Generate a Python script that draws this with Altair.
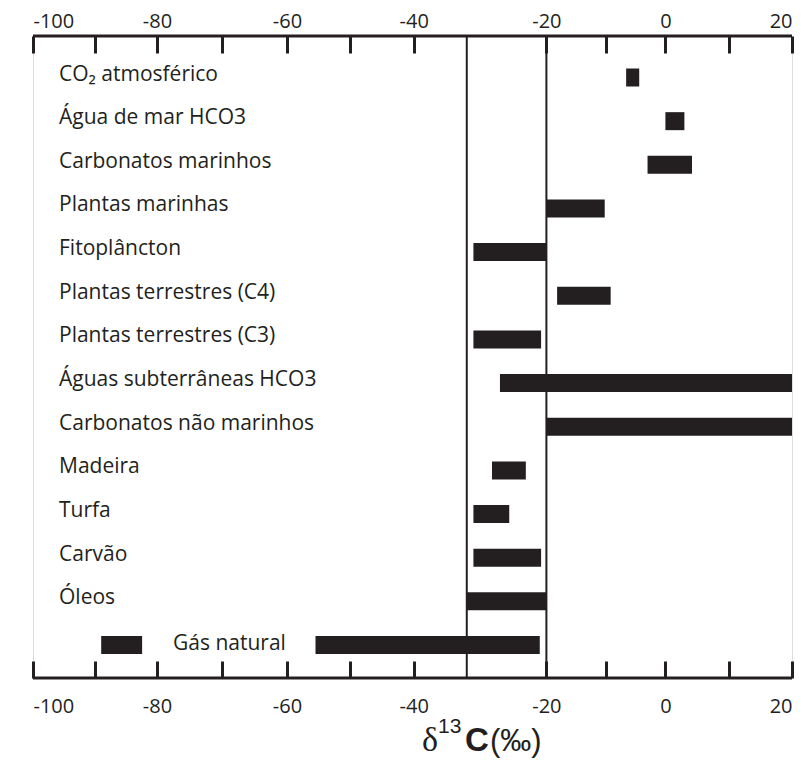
import altair as alt
import pandas as pd

# ---- data ----
categories = [
    "CO₂ atmosférico", "Água de mar HCO3", "Carbonatos marinhos", "Plantas marinhas",
    "Fitoplâncton", "Plantas terrestres (C4)", "Plantas terrestres (C3)",
    "Águas subterrâneas HCO3", "Carbonatos não marinhos", "Madeira", "Turfa",
    "Carvão", "Óleos", "Gás natural",
]
range_min = [-6.6, 0.0, -3.0, -20.0, -31.0, -18.2, -31.0, -27.0, -20.0, -28.2, -31.0, -31.0, -32.0, -55.5]
range_max = [-4.4, 3.0, 4.2, -10.2, -20.0, -9.2, -20.8, 20.0, 20.0, -23.1, -25.6, -20.8, -20.0, -21.0]

# second (separate) range drawn for natural gas
extra_category = ["Gás natural"]
extra_min = [-89.0]
extra_max = [-82.4]

ref_lines = [-32, -20]
tick_values = [-100, -90, -80, -70, -60, -50, -40, -20, -10, 0, 10, 20]
scale_breaks = [-100, -80, -60, -40, -20, 0, 20]

# ---- layout / style ----
W, H = 759, 642
INK = "#231f20"
FONT = "Open Sans"
break_px = [0, 124, 254, 380.7, 513.4, 632.4, 759]

bars = pd.DataFrame({
    "category": categories + extra_category,
    "lo": range_min + extra_min,
    "hi": range_max + extra_max,
})
labels_df = pd.DataFrame({"category": categories})
lines_df = pd.DataFrame({"v": ref_lines})

xscale = alt.Scale(domain=scale_breaks, range=break_px, nice=False, zero=False)
yscale = alt.Scale(type="point", domain=categories, range=[41.5, 609], padding=0)

label_expr = "datum.value % 20 == 0 ? '' + datum.value : ''"

bar_layer = alt.Chart(bars).mark_bar(size=18, color=INK).encode(
    x=alt.X("lo:Q", scale=xscale,
            axis=alt.Axis(orient="top", values=tick_values, labelExpr=label_expr,
                          domain=False, grid=False, tickSize=17, tickWidth=3,
                          tickColor=INK, offset=-17, labelFont=FONT, labelFontSize=20,
                          labelColor=INK, labelPadding=5, title=None)),
    x2="hi:Q",
    y=alt.Y("category:N", scale=yscale, axis=None),
)

bottom_axis_layer = alt.Chart(lines_df).mark_rule(strokeWidth=2, color=INK).encode(
    x=alt.X("v:Q", scale=xscale,
            axis=alt.Axis(orient="bottom", values=tick_values, labelExpr=label_expr,
                          domain=False, grid=False, tickSize=17, tickWidth=3,
                          tickColor=INK, offset=-17, labelFont=FONT, labelFontSize=20,
                          labelColor=INK, labelPadding=18, title=None)),
)

frame_df = pd.DataFrame({"edge": ["top", "bottom"]})
top_line = alt.Chart(frame_df.iloc[[0]]).mark_rule(strokeWidth=3, color=INK).encode(
    x=alt.value(0), x2=alt.value(W), y=alt.value(0))
bottom_line = alt.Chart(frame_df.iloc[[1]]).mark_rule(strokeWidth=3, color=INK).encode(
    x=alt.value(0), x2=alt.value(W), y=alt.value(H))

text_layer = alt.Chart(labels_df).transform_filter(
    alt.datum.category != "Gás natural"
).mark_text(align="left", baseline="middle", dy=-3, font=FONT, fontSize=21, color=INK).encode(
    x=alt.value(26),
    y=alt.Y("category:N", scale=yscale, axis=None),
    text="category:N",
)
gas_text = alt.Chart(labels_df).transform_filter(
    alt.datum.category == "Gás natural"
).mark_text(align="left", baseline="middle", dy=-1, font=FONT, fontSize=21, color=INK).encode(
    x=alt.value(140),
    y=alt.Y("category:N", scale=yscale, axis=None),
    text="category:N",
)

def title_part(txt, x, y, font, size, weight="normal"):
    return alt.Chart(pd.DataFrame({"t": [txt]})).mark_text(
        align="left", baseline="alphabetic", font=font, fontSize=size,
        fontWeight=weight, color=INK,
    ).encode(x=alt.value(x), y=alt.value(y), text="t:N")

title_layers = [
    title_part("δ", 389, 715, "Liberation Serif", 34),
    title_part("13", 405, 697, "Liberation Sans", 21),
    title_part("C", 432, 715, "Liberation Sans", 33, "bold"),
    title_part("(‰)", 457, 715, "Liberation Sans", 31),
]

chart = alt.layer(
    bar_layer, bottom_axis_layer, top_line, bottom_line, text_layer, gas_text, *title_layers
).properties(
    width=W, height=H,
    autosize=alt.AutoSizeParams(type="none"),
    padding={"left": 33, "top": 36, "right": 12, "bottom": 82},
).configure_view(stroke=None).configure(background="white")

chart.save("out.html", embed_options={"renderer": "svg", "actions": False})
